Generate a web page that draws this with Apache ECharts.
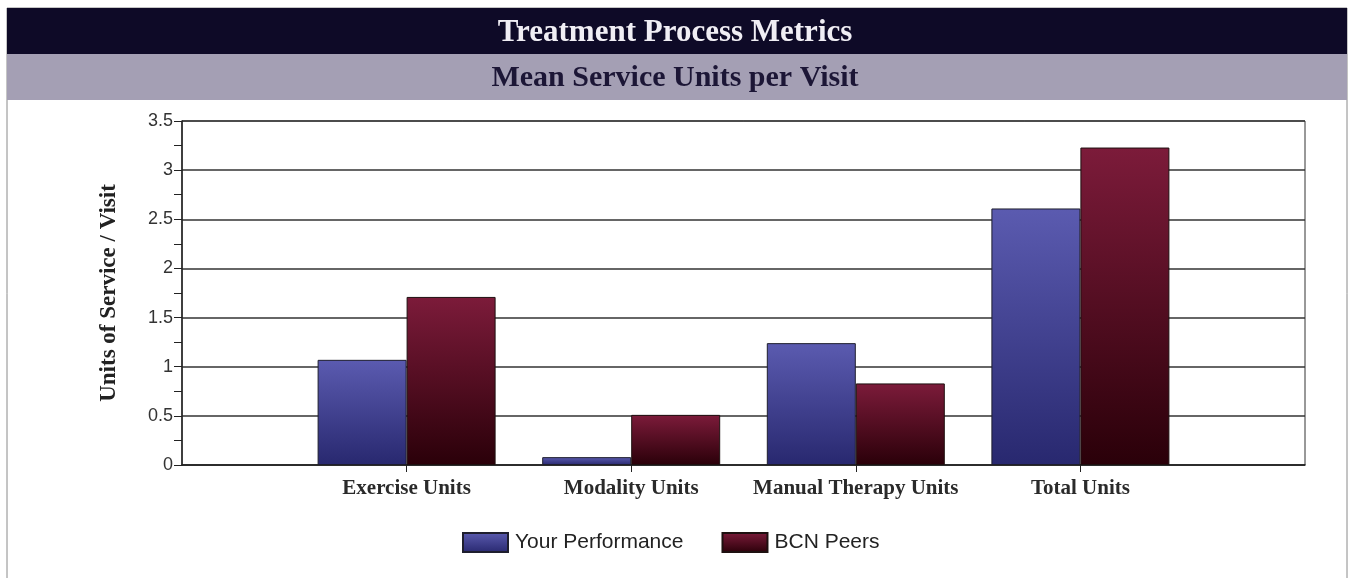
<!DOCTYPE html>
<html>
<head>
<meta charset="utf-8">
<title>Treatment Process Metrics</title>
<script src="https://cdn.jsdelivr.net/npm/echarts@6/dist/echarts.min.js"></script>
<style>
  html, body { margin: 0; padding: 0; background: #fff; }
  #chart { width: 1354px; height: 578px; }
</style>
</head>
<body>
<div id="chart"></div>
<script>
// data
var categories = ["Exercise Units", "Modality Units", "Manual Therapy Units", "Total Units"];
var yourPerformance = [1.07, 0.08, 1.24, 2.61];
var bcnPeers = [1.71, 0.51, 0.83, 3.23];
var yTicks = [0, 0.5, 1, 1.5, 2, 2.5, 3, 3.5];

// the old chart puts the labels on the ticks, so pad an empty slot at each end
var axisData = [""].concat(categories, [""]);
function pad(arr) {
  return [null].concat(arr, [null]);
}

var chart = echarts.init(document.getElementById("chart"));

var blueFill = new echarts.graphic.LinearGradient(0, 0, 0, 1, [
  { offset: 0, color: "#5b5bb0" },
  { offset: 1, color: "#28286f" }
]);
var redFill = new echarts.graphic.LinearGradient(0, 0, 0, 1, [
  { offset: 0, color: "#7c1b3a" },
  { offset: 1, color: "#2a0009" }
]);

var option = {
  backgroundColor: "#fff",
  animation: false,
  graphic: [
    {
      type: "rect",
      shape: { x: 7, y: 8, width: 1340, height: 575 },
      style: { fill: "none", stroke: "#8a8a8a", lineWidth: 1 }
    },
    {
      type: "rect",
      shape: { x: 7, y: 8, width: 1340, height: 46 },
      style: { fill: "#0e0a27" }
    },
    {
      type: "rect",
      shape: { x: 7, y: 54, width: 1340, height: 46 },
      style: { fill: "#a49fb4" }
    },
    {
      type: "text",
      x: 675,
      y: 33,
      style: {
        text: "Treatment Process Metrics",
        fill: "#f0eef4",
        font: "bold 31px 'Liberation Serif'",
        align: "center",
        verticalAlign: "middle"
      }
    },
    {
      type: "text",
      x: 675,
      y: 78,
      style: {
        text: "Mean Service Units per Visit",
        fill: "#1c1636",
        font: "bold 30px 'Liberation Serif'",
        align: "center",
        verticalAlign: "middle"
      }
    }
  ],
  grid: {
    left: 182,
    right: 49,
    top: 121,
    bottom: 113,
    show: true,
    borderColor: "#333",
    borderWidth: 1
  },
  legend: {
    top: 527,
    left: 457,
    icon: "rect",
    itemWidth: 45,
    itemHeight: 19,
    itemGap: 38,
    textStyle: { fontFamily: "Liberation Sans", fontSize: 21, color: "#222", padding: [0, 0, 0, 2] },
    data: ["Your Performance", "BCN Peers"]
  },
  xAxis: {
    type: "category",
    boundaryGap: false,
    data: axisData,
    axisLine: { lineStyle: { color: "#222", width: 1.5 } },
    axisTick: {
      length: 7,
      lineStyle: { color: "#222" },
      interval: function(index, value) {
        return value !== "";
      }
    },
    axisLabel: {
      interval: 0,
      margin: 13,
      fontFamily: "Liberation Serif",
      fontWeight: "bold",
      fontSize: 21,
      color: "#2a2a2a"
    },
    splitLine: { show: false }
  },
  yAxis: {
    type: "value",
    min: yTicks[0],
    max: yTicks[yTicks.length - 1],
    interval: 0.5,
    name: "Units of Service / Visit",
    nameLocation: "middle",
    nameRotate: 90,
    nameGap: 61,
    nameTextStyle: {
      fontFamily: "Liberation Serif",
      fontWeight: "bold",
      fontSize: 23,
      color: "#222"
    },
    axisLine: { show: true, lineStyle: { color: "#222", width: 1.5 } },
    axisTick: { show: true, length: 8, lineStyle: { color: "#222" } },
    minorTick: { show: true, splitNumber: 2, length: 8, lineStyle: { color: "#222" } },
    axisLabel: {
      margin: 9,
      fontFamily: "Liberation Sans",
      fontSize: 18,
      color: "#333"
    },
    splitLine: { lineStyle: { color: "#333", width: 1.5 } }
  },
  series: [
    {
      name: "Your Performance",
      type: "bar",
      barWidth: 89,
      barGap: "0%",
      data: pad(yourPerformance),
      itemStyle: { color: blueFill, borderColor: "#1e1e2e", borderWidth: 1 }
    },
    {
      name: "BCN Peers",
      type: "bar",
      barWidth: 89,
      barGap: "0%",
      data: pad(bcnPeers),
      itemStyle: { color: redFill, borderColor: "#1e1010", borderWidth: 1 }
    }
  ]
};

chart.setOption(option);
</script>
</body>
</html>
